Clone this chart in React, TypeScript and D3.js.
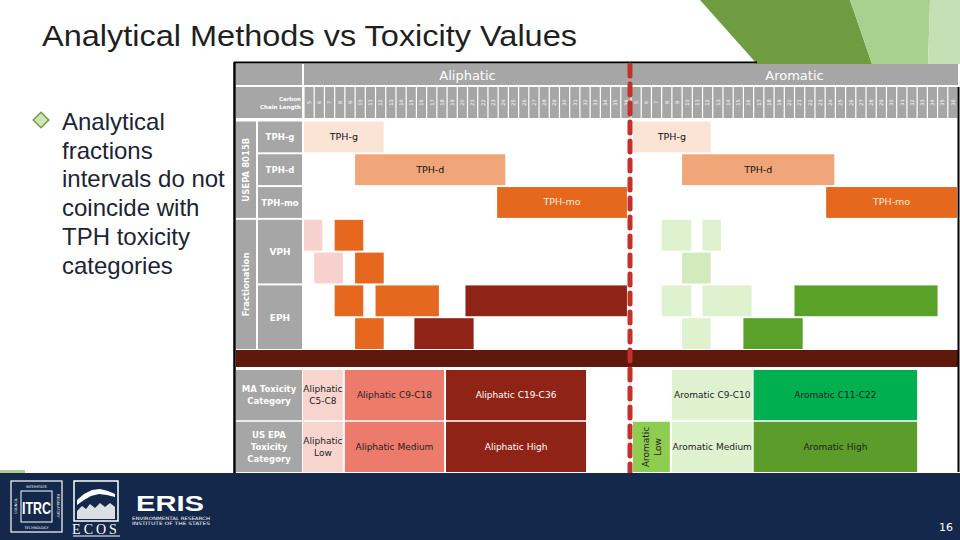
import * as d3 from "d3";

// carbon chain columns (same for both groups)
const carbonNumbers = [5, 6, 7, 8, 9, 10, 11, 12, 13, 14, 15, 16, 17, 18, 19, 20, 21, 22, 23, 24, 25, 26, 27, 28, 29, 30, 31, 32, 33, 34, 35, 36];
const groups = ["Aliphatic", "Aromatic"];
const methodRows = ["TPH-g", "TPH-d", "TPH-mo", "VPH-1", "VPH-2", "EPH-1", "EPH-2"];

// USEPA 8015B ranges, in carbon units (column edges)
const tphAliphatic = [
  { row: "TPH-g", start: 5, end: 12.8 },
  { row: "TPH-d", start: 10, end: 24.7 },
  { row: "TPH-mo", start: 23.9, end: 36.6 },
];
const tphAromatic = [
  { row: "TPH-g", start: 5.2, end: 12.8 },
  { row: "TPH-d", start: 10, end: 24.9 },
  { row: "TPH-mo", start: 24.1, end: 36.9 },
];

// fractionation ranges (VPH / EPH)
const fracAliphatic = [
  { row: "VPH-1", start: 5, end: 6.8, tone: "pale" },
  { row: "VPH-1", start: 8, end: 10.8, tone: "mid" },
  { row: "VPH-2", start: 6, end: 8.8, tone: "pale" },
  { row: "VPH-2", start: 10, end: 12.8, tone: "mid" },
  { row: "EPH-1", start: 8, end: 10.8, tone: "mid" },
  { row: "EPH-1", start: 12, end: 18.2, tone: "mid" },
  { row: "EPH-1", start: 20.8, end: 36.6, tone: "dark" },
  { row: "EPH-2", start: 10, end: 12.8, tone: "mid" },
  { row: "EPH-2", start: 15.8, end: 21.6, tone: "dark" },
];
const fracAromatic = [
  { row: "VPH-1", start: 8, end: 10.9, tone: "pale" },
  { row: "VPH-1", start: 12, end: 13.8, tone: "pale" },
  { row: "VPH-2", start: 10, end: 12.8, tone: "mid" },
  { row: "EPH-1", start: 8, end: 10.9, tone: "pale" },
  { row: "EPH-1", start: 12, end: 16.8, tone: "pale" },
  { row: "EPH-1", start: 21, end: 35, tone: "dark" },
  { row: "EPH-2", start: 10, end: 12.8, tone: "pale" },
  { row: "EPH-2", start: 16, end: 21.8, tone: "dark" },
];

// toxicity categories
const maAliphatic = [
  { label: ["Aliphatic", "C5-C8"], start: 4.9, end: 8.8, fill: "#f8d4cf", ink: "#222" },
  { label: ["Aliphatic C9-C18"], start: 9, end: 18.7, fill: "#ec7b6b", ink: "#222" },
  { label: ["Aliphatic C19-C36"], start: 18.9, end: 32.6, fill: "#8f2416", ink: "#fff" },
];
const epaAliphatic = [
  { label: ["Aliphatic", "Low"], start: 4.9, end: 8.8, fill: "#f8d4cf", ink: "#222" },
  { label: ["Aliphatic Medium"], start: 9, end: 18.7, fill: "#ec7b6b", ink: "#222" },
  { label: ["Aliphatic  High"], start: 18.9, end: 32.6, fill: "#8f2416", ink: "#fff" },
];
const maAromatic = [
  { label: ["Aromatic C9-C10"], start: 9, end: 16.9, fill: "#dff2d0", ink: "#222" },
  { label: ["Aromatic C11-C22"], start: 17, end: 33, fill: "#00b050", ink: "#222" },
];
const epaAromatic = [
  { label: ["Aromatic", "Low"], start: 5.2, end: 8.8, fill: "#8fcd50", ink: "#222", vertical: true },
  { label: ["Aromatic Medium"], start: 9, end: 16.9, fill: "#dff2d0", ink: "#222" },
  { label: ["Aromatic High"], start: 17, end: 33, fill: "#5b9c2a", ink: "#222" },
];

const bulletLines = ["Analytical", "fractions", "intervals do not", "coincide with", "TPH toxicity", "categories"];

const GRAY = "#a6a6a6";
const FONT = "DejaVu Sans";
const aliTones: Record<string, string> = { pale: "#f6d1cd", mid: "#e5681e", dark: "#8f2416" };
const aroTones: Record<string, string> = { pale: "#dff2d0", mid: "#d2eabc", dark: "#5aa12a" };
const tphFills: Record<string, string> = { "TPH-g": "#fbe3d6", "TPH-d": "#f0a678", "TPH-mo": "#e5681e" };

export default function App() {
  const xs: Record<string, d3.ScaleLinear<number, number>> = {
    Aliphatic: d3.scaleLinear().domain([5, 37]).range([304, 631]),
    Aromatic: d3.scaleLinear().domain([5, 37]).range([631, 958]),
  };
  const y = d3.scaleBand<string>().domain(methodRows).range([121.5, 349]).paddingInner(0.06);
  const tableY = d3.scaleBand<string>().domain(["MA", "EPA"]).range([370, 472]).paddingInner(0.03);

  const barText = (x: number, yy: number, lines: string[], ink: string, size = 9, bold = false) => (
    <text x={x} y={yy} textAnchor="middle" fontFamily={FONT} fontSize={size} fill={ink} fontWeight={bold ? "bold" : "normal"}>
      {lines.map((l, i) => (
        <tspan key={i} x={x} dy={i === 0 ? -(lines.length - 1) * 6 + 3 : 12}>{l}</tspan>
      ))}
    </text>
  );

  const tableCells = (cells: any[], row: string, x: d3.ScaleLinear<number, number>) =>
    cells.map((c, i) => {
      const x0 = x(c.start), x1 = x(c.end);
      const y0 = tableY(row)!, h = tableY.bandwidth();
      const cx = (x0 + x1) / 2, cy = y0 + h / 2;
      return (
        <g key={row + i}>
          <rect x={x0} y={y0} width={x1 - x0} height={h} fill={c.fill} />
          {c.vertical ? (
            <text transform={`translate(${cx},${cy}) rotate(-90)`} textAnchor="middle" fontFamily={FONT} fontSize={9} fill={c.ink}>
              <tspan x={0} dy={-2}>{c.label[0]}</tspan>
              <tspan x={0} dy={12}>{c.label[1]}</tspan>
            </text>
          ) : (
            barText(cx, cy, c.label, c.ink, 9)
          )}
        </g>
      );
    });

  return (
    <svg width={960} height={540} style={{ position: "absolute", left: 0, top: 0, background: "#fff" }}>
      {/* decoration top right */}
      <polygon points="700,0 850,0 872,64 757,64" fill="#6f9c40" />
      <polygon points="850,0 930,0 928,64 872,64" fill="#a9d08e" />
      <polygon points="930,0 960,0 960,64 928,64" fill="#c5e0b4" />

      {/* title */}
      <text x={42} y={46} fontFamily="Liberation Sans" fontSize={30} fill="#1f1f1f" textLength={535} lengthAdjust="spacingAndGlyphs">
        Analytical Methods vs Toxicity Values
      </text>

      {/* bullet */}
      <g transform="translate(41,120) rotate(45)">
        <rect x={-5.5} y={-5.5} width={11} height={11} fill="#cfe6b4" stroke="#6f9c40" strokeWidth={1.5} />
      </g>
      {bulletLines.map((l, i) => (
        <text key={i} x={62} y={130 + i * 28.7} fontFamily="Liberation Sans" fontSize={24} fill="#1d2433">{l}</text>
      ))}

      {/* header */}
      <rect x={236} y={64} width={66} height={21} fill={GRAY} />
      <rect x={304} y={64} width={654} height={21} fill={GRAY} />
      {groups.map((g) => (
        <text key={g} x={(xs[g](5) + xs[g](37)) / 2} y={80} textAnchor="middle" fontFamily={FONT} fontSize={13} fill="#fff">{g}</text>
      ))}
      <rect x={236} y={87} width={66} height={31} fill={GRAY} />
      <text x={301} y={101} textAnchor="end" fontFamily={FONT} fontWeight="bold" fontSize={5.5} fill="#fff">
        <tspan x={301}>Carbon</tspan>
        <tspan x={301} dy={8}>Chain Length</tspan>
      </text>
      {groups.map((g) =>
        carbonNumbers.map((c) => (
          <g key={g + c}>
            <rect x={xs[g](c) + 0.6} y={87} width={xs[g](c + 1) - xs[g](c) - 1.2} height={31} fill={GRAY} />
            <text transform={`translate(${(xs[g](c) + xs[g](c + 1)) / 2 + 1.8},102.5) rotate(-90)`} textAnchor="middle" fontFamily={FONT} fontSize={5} fill="#fff">{c}</text>
          </g>
        ))
      )}

      {/* row labels */}
      <rect x={236} y={y("TPH-g")!} width={20} height={y("TPH-mo")! + y.bandwidth() - y("TPH-g")!} fill={GRAY} />
      <text transform={`translate(${249},${(y("TPH-g")! + y("TPH-mo")! + y.bandwidth()) / 2}) rotate(-90)`} textAnchor="middle" fontFamily={FONT} fontWeight="bold" fontSize={8.5} fill="#fff">USEPA 8015B</text>
      <rect x={236} y={y("VPH-1")!} width={20} height={y("EPH-2")! + y.bandwidth() - y("VPH-1")!} fill={GRAY} />
      <text transform={`translate(${249},${(y("VPH-1")! + y("EPH-2")! + y.bandwidth()) / 2}) rotate(-90)`} textAnchor="middle" fontFamily={FONT} fontWeight="bold" fontSize={8.5} fill="#fff">Fractionation</text>
      {["TPH-g", "TPH-d", "TPH-mo"].map((r) => (
        <g key={r}>
          <rect x={258} y={y(r)!} width={44} height={y.bandwidth()} fill={GRAY} />
          <text x={280} y={y(r)! + y.bandwidth() / 2 + 3.5} textAnchor="middle" fontFamily={FONT} fontWeight="bold" fontSize={8.5} fill="#fff">{r}</text>
        </g>
      ))}
      {[["VPH", "VPH-1", "VPH-2"], ["EPH", "EPH-1", "EPH-2"]].map(([lab, a, b]) => (
        <g key={lab}>
          <rect x={258} y={y(a)!} width={44} height={y(b)! + y.bandwidth() - y(a)!} fill={GRAY} />
          <text x={280} y={(y(a)! + y(b)! + y.bandwidth()) / 2 + 3.5} textAnchor="middle" fontFamily={FONT} fontWeight="bold" fontSize={9} fill="#fff">{lab}</text>
        </g>
      ))}

      {/* TPH bars */}
      {[
        { g: "Aliphatic", data: tphAliphatic },
        { g: "Aromatic", data: tphAromatic },
      ].map(({ g, data }) =>
        data.map((d) => {
          const x0 = xs[g](d.start), x1 = xs[g](d.end);
          return (
            <g key={g + d.row}>
              <rect x={x0} y={y(d.row)!} width={x1 - x0} height={y.bandwidth()} fill={tphFills[d.row]} />
              {barText((x0 + x1) / 2, y(d.row)! + y.bandwidth() / 2, [d.row], d.row === "TPH-mo" ? "#fde9d9" : "#111", 9.5)}
            </g>
          );
        })
      )}

      {/* fractionation bars */}
      {fracAliphatic.map((d, i) => (
        <rect key={"fa" + i} x={xs.Aliphatic(d.start)} y={y(d.row)!} width={xs.Aliphatic(d.end) - xs.Aliphatic(d.start)} height={y.bandwidth()} fill={aliTones[d.tone]} />
      ))}
      {fracAromatic.map((d, i) => (
        <rect key={"fr" + i} x={xs.Aromatic(d.start)} y={y(d.row)!} width={xs.Aromatic(d.end) - xs.Aromatic(d.start)} height={y.bandwidth()} fill={aroTones[d.tone]} />
      ))}

      {/* brown band */}
      <rect x={236} y={350} width={722} height={17} fill="#5e190f" />

      {/* toxicity table */}
      <rect x={236} y={tableY("MA")!} width={66} height={tableY.bandwidth()} fill={GRAY} />
      <rect x={236} y={tableY("EPA")!} width={66} height={tableY.bandwidth()} fill={GRAY} />
      {barText(269, tableY("MA")! + tableY.bandwidth() / 2, ["MA Toxicity", "Category"], "#fff", 8.5, true)}
      <text x={269} y={tableY("EPA")! + tableY.bandwidth() / 2 - 9} textAnchor="middle" fontFamily={FONT} fontWeight="bold" fontSize={8.5} fill="#fff">
        <tspan x={269}>US EPA</tspan>
        <tspan x={269} dy={12}>Toxicity</tspan>
        <tspan x={269} dy={12}>Category</tspan>
      </text>
      {tableCells(maAliphatic, "MA", xs.Aliphatic)}
      {tableCells(epaAliphatic, "EPA", xs.Aliphatic)}
      {tableCells(maAromatic, "MA", xs.Aromatic)}
      {tableCells(epaAromatic, "EPA", xs.Aromatic)}

      {/* frame lines */}
      <line x1={234.5} x2={234.5} y1={62} y2={473} stroke="#000" strokeWidth={2.5} />
      <line x1={234} x2={757} y1={62.5} y2={62.5} stroke="#000" strokeWidth={2} />
      <line x1={958.5} x2={958.5} y1={87} y2={472} stroke="#000" strokeWidth={2} />

      {/* aliphatic / aromatic divider */}
      <line x1={630} x2={630} y1={65} y2={472} stroke="#c4302a" strokeWidth={5} strokeDasharray="11 8" strokeLinecap="round" />

      {/* footer */}
      <rect x={0} y={473} width={960} height={67} fill="#13284a" />
      <rect x={0} y={470} width={25} height={3} fill="#a9d08e" />
      <g fill="none" stroke="#fff">
        <rect x={11} y={481} width={51} height={51} strokeWidth={1.2} />
        <rect x={21} y={491} width={31} height={31} strokeWidth={1} />
      </g>
      <text x={36.5} y={514} textAnchor="middle" fontFamily="Liberation Sans" fontWeight="bold" fontSize={17} fill="#fff" textLength={29} lengthAdjust="spacingAndGlyphs">ITRC</text>
      <text x={36.5} y={488} textAnchor="middle" fontFamily={FONT} fontSize={3.5} fill="#fff">INTERSTATE</text>
      <text x={36.5} y={529} textAnchor="middle" fontFamily={FONT} fontSize={3.5} fill="#fff">TECHNOLOGY</text>
      <text transform="translate(17,506) rotate(-90)" textAnchor="middle" fontFamily={FONT} fontSize={3.5} fill="#fff">COUNCIL</text>
      <text transform="translate(57,506) rotate(90)" textAnchor="middle" fontFamily={FONT} fontSize={3.5} fill="#fff">REGULATORY</text>
      <rect x={74} y={481} width={44} height={40} fill="none" stroke="#fff" strokeWidth={1.5} />
      <polygon points="77,500 84,494 92,490 100,489 108,491 115,494 115,497 107,495 99,494 91,496 84,500 77,505" fill="#fff" />
      <polygon points="77,511 82,506 86,509 90,504 95,508 100,503 105,507 110,503 115,507 115,519 77,519" fill="#fff" opacity={0.85} />
      <text x={96} y={534} textAnchor="middle" fontFamily="Liberation Serif" fontSize={14} fill="#fff" letterSpacing={3}>ECOS</text>
      <line x1={73} x2={120} y1={536} y2={536} stroke="#fff" strokeWidth={1} />
      <text x={170} y={511} textAnchor="middle" fontFamily="Liberation Sans" fontWeight="bold" fontSize={22} fill="#fff" textLength={68} lengthAdjust="spacingAndGlyphs">ERIS</text>
      <text x={171} y={520} textAnchor="middle" fontFamily={FONT} fontSize={4.5} fill="#fff" textLength={78} lengthAdjust="spacingAndGlyphs">ENVIRONMENTAL RESEARCH</text>
      <text x={171} y={525} textAnchor="middle" fontFamily={FONT} fontSize={4.5} fill="#fff" textLength={78} lengthAdjust="spacingAndGlyphs">INSTITUTE OF THE STATES</text>
      <text x={946} y={531} textAnchor="middle" fontFamily={FONT} fontSize={11} fill="#fff">16</text>
    </svg>
  );
}
